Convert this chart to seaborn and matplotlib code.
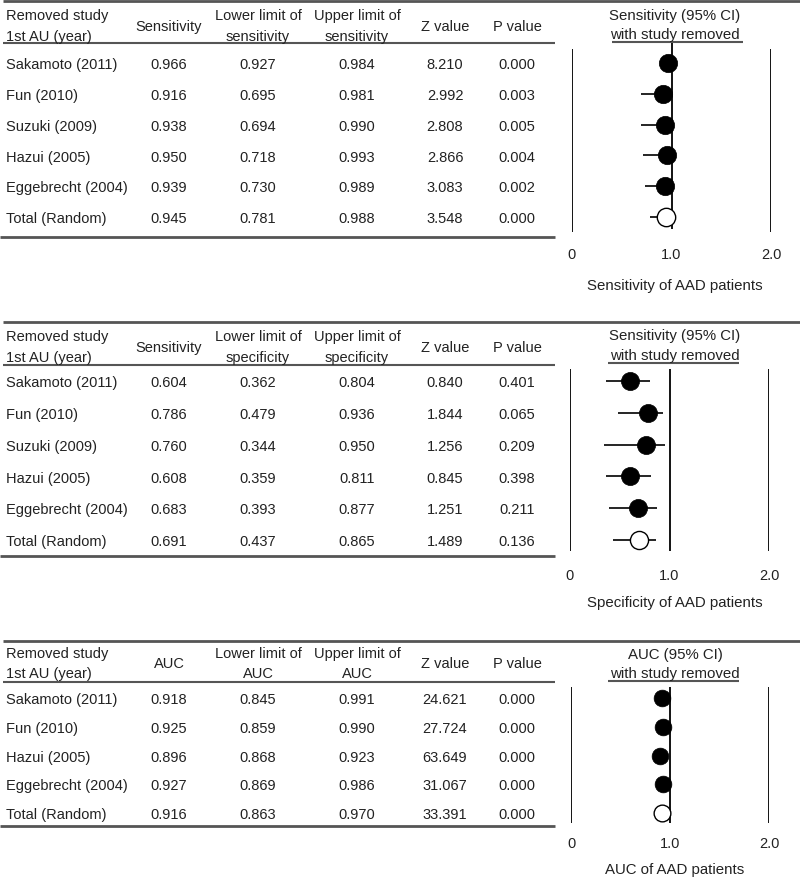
import matplotlib
matplotlib.use("Agg")
import matplotlib.pyplot as plt
import numpy as np
import pandas as pd
import seaborn as sns

sns.set_theme(style="white")
plt.rcParams["font.family"] = ["Liberation Sans", "DejaVu Sans"]

W, H = 800, 879
TXT = "#222222"
LINE = "#555555"
FS = 10.5

# ---- data ----
studies_sens = ["Sakamoto (2011)", "Fun (2010)", "Suzuki (2009)", "Hazui (2005)",
                "Eggebrecht (2004)", "Total (Random)"]
sens_est = [0.966, 0.916, 0.938, 0.950, 0.939, 0.945]
sens_low = [0.927, 0.695, 0.694, 0.718, 0.730, 0.781]
sens_up = [0.984, 0.981, 0.990, 0.993, 0.989, 0.988]
sens_z = [8.210, 2.992, 2.808, 2.866, 3.083, 3.548]
sens_p = [0.000, 0.003, 0.005, 0.004, 0.002, 0.000]

studies_spec = ["Sakamoto (2011)", "Fun (2010)", "Suzuki (2009)", "Hazui (2005)",
                "Eggebrecht (2004)", "Total (Random)"]
spec_est = [0.604, 0.786, 0.760, 0.608, 0.683, 0.691]
spec_low = [0.362, 0.479, 0.344, 0.359, 0.393, 0.437]
spec_up = [0.804, 0.936, 0.950, 0.811, 0.877, 0.865]
spec_z = [0.840, 1.844, 1.256, 0.845, 1.251, 1.489]
spec_p = [0.401, 0.065, 0.209, 0.398, 0.211, 0.136]

studies_auc = ["Sakamoto (2011)", "Fun (2010)", "Hazui (2005)",
               "Eggebrecht (2004)", "Total (Random)"]
auc_est = [0.918, 0.925, 0.896, 0.927, 0.916]
auc_low = [0.845, 0.859, 0.868, 0.869, 0.863]
auc_up = [0.991, 0.990, 0.923, 0.986, 0.970]
auc_z = [24.621, 27.724, 63.649, 31.067, 33.391]
auc_p = [0.000, 0.000, 0.000, 0.000, 0.000]

heads_sens = ["Sensitivity", "Lower limit of\nsensitivity", "Upper limit of\nsensitivity", "Z value", "P value"]
heads_spec = ["Sensitivity", "Lower limit of\nspecificity", "Upper limit of\nspecificity", "Z value", "P value"]
heads_auc = ["AUC", "Lower limit of\nAUC", "Upper limit of\nAUC", "Z value", "P value"]

x_ticks = [0, 1, 2]
x_ticklabels = ["0", "1.0", "2.0"]

panels = [
    dict(studies=studies_sens, est=sens_est, low=sens_low, up=sens_up, z=sens_z, p=sens_p,
         heads=heads_sens, title="Sensitivity (95% CI)", xlabel="Sensitivity of AAD patients"),
    dict(studies=studies_spec, est=spec_est, low=spec_low, up=spec_up, z=spec_z, p=spec_p,
         heads=heads_spec, title="Sensitivity (95% CI)", xlabel="Specificity of AAD patients"),
    dict(studies=studies_auc, est=auc_est, low=auc_low, up=auc_up, z=auc_z, p=auc_p,
         heads=heads_auc, title="AUC (95% CI)", xlabel="AUC of AAD patients"),
]

# ---- layout (pixels) ----
layout = [
    dict(top=1.5, head=(15, 36), hline=44, r0=64, rN=218, bottom=238, vmid=(44, 230), vout=(50, 233),
         x0=572, x2=771, title=(15, 34), uline=(43, 612, 743), tick=253, xlab=285, msize=175),
    dict(top=323, head=(336, 357), hline=366, r0=382, rN=541, bottom=557, vmid=(370, 552), vout=(370, 552),
         x0=570, x2=769, title=(335, 355), uline=(364, 608, 739), tick=574, xlab=602, msize=170),
    dict(top=642, head=(653, 673), hline=683, r0=699, rN=814, bottom=827, vmid=(688, 824), vout=(688, 824),
         x0=571, x2=769, title=(654, 673), uline=(682, 608, 739), tick=842, xlab=869, msize=145),
]
col_x = [169, 258, 357, 445, 517]
label_x = 6
title_x = 675
CAP = 5.2  # half cap height in px, for baseline placement

fig = plt.figure(figsize=(W / 100, H / 100), dpi=100)
canvas = fig.add_axes([0, 0, 1, 1])
canvas.set_xlim(0, W)
canvas.set_ylim(H, 0)
canvas.axis("off")


def txt(x, y, s, ha="center", size=FS):
    canvas.text(x, y + CAP, s, ha=ha, va="baseline", fontsize=size, color=TXT)


for pan, lay in zip(panels, layout):
    n = len(pan["studies"])
    sp = (lay["rN"] - lay["r0"]) / (n - 1)
    rows_px = [lay["r0"] + i * sp for i in range(n)]

    # table rules
    canvas.plot([3, W], [lay["top"]] * 2, color=LINE, lw=2, solid_capstyle="butt")
    canvas.plot([3, 555], [lay["hline"]] * 2, color=LINE, lw=1.5, solid_capstyle="butt")
    canvas.plot([0, 555], [lay["bottom"]] * 2, color=LINE, lw=2, solid_capstyle="butt")

    # header
    h1, h2 = lay["head"]
    txt(label_x, h1, "Removed study", ha="left")
    txt(label_x, h2, "1st AU (year)", ha="left")
    for cx, hd in zip(col_x, pan["heads"]):
        parts = hd.split("\n")
        if len(parts) == 2:
            txt(cx, h1, parts[0])
            txt(cx, h2, parts[1])
        else:
            txt(cx, (h1 + h2) / 2, hd)

    # body
    for i, ry in enumerate(rows_px):
        txt(label_x, ry, pan["studies"][i], ha="left")
        vals = [pan["est"][i], pan["low"][i], pan["up"][i], pan["z"][i], pan["p"][i]]
        for cx, v in zip(col_x, vals):
            txt(cx, ry, f"{v:.3f}")

    # forest title
    t1, t2 = lay["title"]
    txt(title_x, t1, pan["title"], size=10.8)
    txt(title_x, t2, "with study removed", size=10.8)
    uy, ux0, ux1 = lay["uline"]
    canvas.plot([ux0, ux1], [uy, uy], color=LINE, lw=1.5, solid_capstyle="butt")
    txt(title_x, lay["xlab"], pan["xlabel"], size=10.8)

    # forest axes
    T = min(lay["vmid"][0], lay["vout"][0]) - 1
    B = max(lay["vmid"][1], lay["vout"][1]) + 1
    ax = fig.add_axes([lay["x0"] / W, 1 - B / H, (lay["x2"] - lay["x0"]) / W, (B - T) / H])
    ax.patch.set_alpha(0)
    ax.set_xlim(0, 2)
    ax.set_ylim((B - lay["r0"]) / sp, (T - lay["r0"]) / sp)

    def yrow(px):
        return (px - lay["r0"]) / sp

    ax.vlines([0, 2], yrow(lay["vout"][0]), yrow(lay["vout"][1]), color="black", lw=1.3, zorder=1)
    ax.vlines([1], yrow(lay["vmid"][0]), yrow(lay["vmid"][1]), color="black", lw=1.3, zorder=1)

    df = pd.DataFrame({"est": pan["est"], "low": pan["low"], "up": pan["up"], "row": np.arange(n)})
    ax.hlines(df["row"], df["low"], df["up"], color="black", lw=1.2, zorder=2)
    sns.scatterplot(data=df.iloc[:-1], x="est", y="row", ax=ax, s=lay["msize"], color="black",
                    edgecolor="black", linewidth=0.5, zorder=3, legend=False)
    sns.scatterplot(data=df.iloc[-1:], x="est", y="row", ax=ax, s=lay["msize"], color="white",
                    edgecolor="black", linewidth=1.0, zorder=3, legend=False)

    ax.set_xticks(x_ticks)
    ax.set_xticklabels(x_ticklabels, fontsize=FS, color=TXT)
    pad_px = lay["tick"] - 5.4 - B
    ax.tick_params(axis="x", length=0, pad=pad_px * 0.72)
    ax.set_yticks([])
    ax.set_xlabel("")
    ax.set_ylabel("")
    for s in ax.spines.values():
        s.set_visible(False)
    ax.grid(False)

fig.savefig("out.png", dpi=100)
